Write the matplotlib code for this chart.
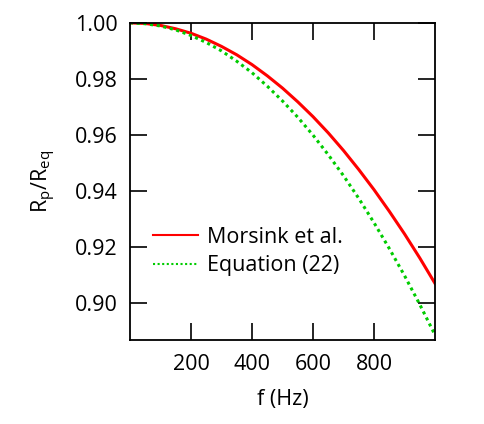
import matplotlib
matplotlib.use("Agg")
import matplotlib.pyplot as plt

# data
freq = [0, 50, 100, 150, 200, 250, 300, 350, 400, 450, 500,
        550, 600, 650, 700, 750, 800, 850, 900, 950, 1000]
morsink = [1.0000, 0.9998, 0.9991, 0.9979, 0.9963, 0.9942, 0.9916, 0.9886,
           0.9851, 0.9811, 0.9767, 0.9718, 0.9665, 0.9607, 0.9544, 0.9476,
           0.9404, 0.9327, 0.9246, 0.9160, 0.9069]
eq22 = [1.0000, 0.9997, 0.9989, 0.9975, 0.9955, 0.9930, 0.9900, 0.9863,
        0.9822, 0.9774, 0.9721, 0.9663, 0.9599, 0.9529, 0.9454, 0.9373,
        0.9286, 0.9194, 0.9097, 0.8994, 0.8885]
xticks = [200, 400, 600, 800]
yticks = [0.90, 0.92, 0.94, 0.96, 0.98, 1.00]

plt.rcParams['font.family'] = ['Open Sans', 'DejaVu Sans']
fs = 15.5

fig = plt.figure(figsize=(4.85, 4.24), dpi=100)
ax = fig.add_axes([0.268, 0.198, 0.629, 0.748])

ax.plot(freq, morsink, color='#ff0000', lw=2.2, label='Morsink et al.')
ax.plot(freq, eq22, color='#00cc00', lw=2.2, linestyle=(0, (1, 1.2)), label='Equation (22)')

ax.set_xlim(0, 1000)
ax.set_ylim(0.8867, 1.0)
ax.set_xticks(xticks)
ax.set_yticks(yticks)
ax.set_yticklabels(['%.2f' % v for v in yticks])
ax.tick_params(direction='in', length=12, width=1.2, labelsize=fs,
               top=True, right=True)
ax.tick_params(axis='y', pad=9)
ax.tick_params(axis='x', pad=10)
for s in ax.spines.values():
    s.set_linewidth(1.3)

ax.set_xlabel('f (Hz)', fontsize=fs, labelpad=10)
ax.set_ylabel('R$_\\mathregular{p}$/R$_\\mathregular{eq}$', fontsize=fs, labelpad=12)

leg = ax.legend(loc='center left', bbox_to_anchor=(0.075, 0.279), frameon=False,
                fontsize=fs, handlelength=2.1, handletextpad=0.42,
                labelspacing=0.35, borderpad=0, borderaxespad=0)
for h in leg.get_lines():
    h.set_linewidth(1.5)

fig.savefig('out.png', dpi=100)
